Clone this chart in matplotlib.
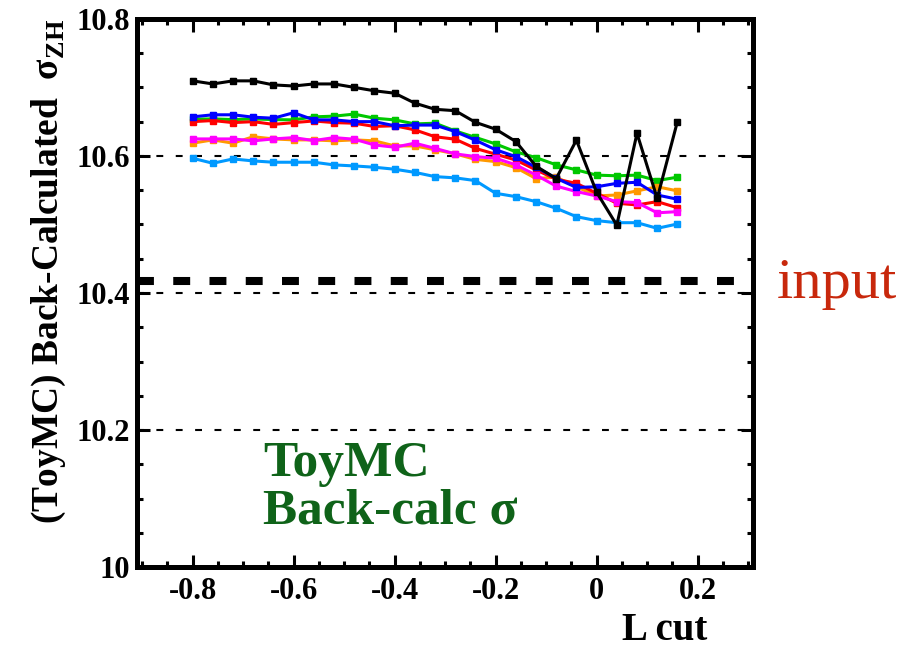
import numpy as np
import matplotlib
matplotlib.use("Agg")
import matplotlib.pyplot as plt
from matplotlib.ticker import MultipleLocator

plt.rcParams["font.family"] = ["Liberation Serif", "DejaVu Serif"]
plt.rcParams["font.weight"] = "bold"
plt.rcParams["mathtext.fontset"] = "custom"
plt.rcParams["mathtext.bf"] = "Liberation Serif:bold"
plt.rcParams["mathtext.rm"] = "Liberation Serif:bold"

# L cut values (step 0.04)
lcut = np.round(np.arange(-0.8, 0.1601, 0.04), 2)

black = [10.7095, 10.705, 10.7095, 10.7095, 10.7036, 10.702, 10.705, 10.705, 10.700,
         10.695, 10.6915, 10.677, 10.668, 10.666, 10.649, 10.639, 10.621,
         10.585, 10.567, 10.623, 10.547, 10.499, 10.633, 10.538, 10.650]
green = [10.6536, 10.654, 10.653, 10.654, 10.653, 10.6526, 10.657, 10.658, 10.661,
         10.655, 10.6526, 10.6467, 10.6477, 10.6365, 10.627, 10.6175, 10.606,
         10.5975, 10.587, 10.5796, 10.572, 10.571, 10.572, 10.564, 10.569]
blue = [10.657, 10.660, 10.660, 10.6565, 10.655, 10.663, 10.6526, 10.6526, 10.650,
        10.650, 10.644, 10.645, 10.645, 10.6355, 10.623, 10.609, 10.599,
        10.5835, 10.5674, 10.554, 10.555, 10.560, 10.5616, 10.543, 10.5368]
red = [10.650, 10.6516, 10.6486, 10.650, 10.646, 10.6486, 10.651, 10.6486, 10.6477,
       10.643, 10.644, 10.638, 10.628, 10.6244, 10.611, 10.6025, 10.594,
       10.5796, 10.566, 10.560, 10.5455, 10.531, 10.5285, 10.5333, 10.5245]
magenta = [10.6248, 10.6248, 10.6248, 10.622, 10.6248, 10.6267, 10.6224, 10.6267, 10.6244,
           10.616, 10.6127, 10.6186, 10.611, 10.603, 10.599, 10.5966, 10.587,
           10.572, 10.556, 10.548, 10.5416, 10.5333, 10.532, 10.517, 10.5187]
orange = [10.6186, 10.6234, 10.6186, 10.628, 10.6248, 10.6234, 10.6234, 10.622, 10.6234,
          10.622, 10.6146, 10.6146, 10.609, 10.603, 10.595, 10.5917, 10.5830,
          10.567, 10.569, 10.555, 10.5416, 10.543, 10.549, 10.555, 10.549]
lightblue = [10.5966, 10.5893, 10.5956, 10.5927, 10.5908, 10.5908, 10.5908, 10.5869, 10.5854,
             10.5835, 10.5806, 10.576, 10.5698, 10.568, 10.564, 10.5455, 10.5406,
             10.5333, 10.5236, 10.5114, 10.5056, 10.5026, 10.5026, 10.4944, 10.5007]

input_sigma = 10.417
ref_lines = [10.2, 10.4, 10.6]

series = [
    (green, "#00c800"),
    (lightblue, "#0099ff"),
    (orange, "#ff9900"),
    (red, "#ff0000"),
    (magenta, "#ff00ff"),
    (blue, "#0000ff"),
    (black, "#000000"),
]

fig = plt.figure(figsize=(9.14, 6.49), dpi=100)
ax = fig.add_axes([0.150, 0.126, 0.674, 0.845])

for y in ref_lines:
    ax.axhline(y, color="black", lw=1.5, dashes=(3.3, 6.0), zorder=1)
ax.axhline(input_sigma, color="black", lw=5.8, dashes=(2.1, 2.4), zorder=1)

for vals, c in series:
    ax.errorbar(lcut, vals, yerr=0.003, color=c, lw=2.2, marker="s", ms=5,
                capsize=2.5, elinewidth=1.5, capthick=1.5, zorder=3)

ax.set_xlim(-0.91, 0.31)
ax.set_ylim(10.0, 10.8)
ax.xaxis.set_minor_locator(MultipleLocator(0.05))
ax.yaxis.set_minor_locator(MultipleLocator(0.05))
ax.set_xticks([-0.8, -0.6, -0.4, -0.2, 0, 0.2])
ax.set_xticklabels(["-0.8", "-0.6", "-0.4", "-0.2", "0", "0.2"])
ax.set_yticks([10.0, 10.2, 10.4, 10.6, 10.8])
ax.set_yticklabels(["10", "10.2", "10.4", "10.6", "10.8"])
ax.tick_params(which="both", direction="in", top=True, right=True, width=2.2,
               labelsize=22)
ax.tick_params(which="major", length=9)
ax.tick_params(which="minor", length=4)
ax.tick_params(axis="x", pad=7)
ax.tick_params(axis="y", pad=5)
for s in ax.spines.values():
    s.set_linewidth(3.6)

ax.set_ylabel(r"(ToyMC) Back-Calculated  σ$_{\mathbf{ZH}}$", fontsize=27,
              fontweight="bold", labelpad=6, loc="top")
fig.text(707 / 914, 1 - 640 / 649, "L cut", fontsize=28, fontweight="bold",
         ha="right", va="baseline")

fig.text(777 / 914, 1 - 298 / 649, "input", fontsize=42, fontweight="normal",
         color="#c8280c", ha="left", va="baseline")
fig.text(263 / 914, 1 - 476 / 649, "ToyMC", fontsize=37, fontweight="bold",
         color="#0f6319", ha="left", va="baseline")
fig.text(263 / 914, 1 - 524 / 649, "Back-calc σ", fontsize=37, fontweight="bold",
         color="#0f6319", ha="left", va="baseline")

fig.savefig("out.png", dpi=100)
